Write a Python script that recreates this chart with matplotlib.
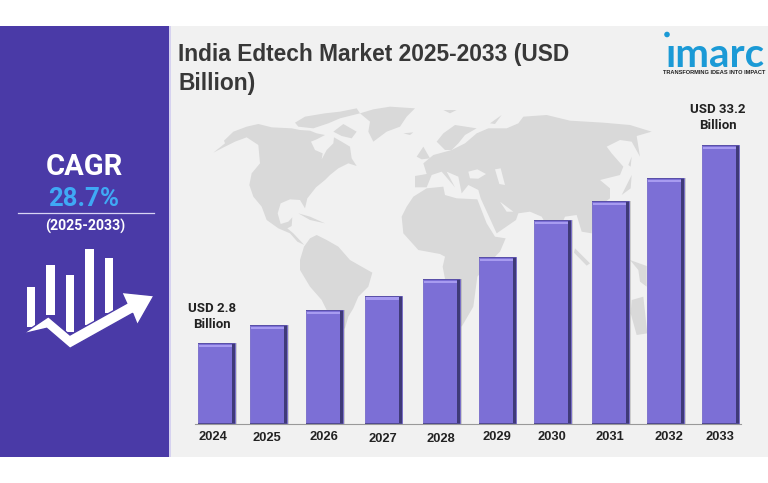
import numpy as np
import matplotlib
matplotlib.use('Agg')
import matplotlib.pyplot as plt
from matplotlib.patches import Polygon, Rectangle, Circle

# chart values, heights are read off the picture because the bars are not to scale
years = ['2024', '2025', '2026', '2027', '2028', '2029', '2030', '2031', '2032', '2033']
bar_heights = [81, 99, 114, 128.5, 145, 167, 204, 223, 246, 279]
end_labels = ['USD 2.8\nBillion', 'USD 33.2\nBillion']
title_text = 'India Edtech Market 2025-2033 (USD\nBillion)'

# the bars and year labels are a bit uneven in the original
bar_x = [216.5, 268.5, 324.5, 383, 441.5, 497, 552.5, 610.5, 665.5, 720]
year_x = [213, 267, 324, 383, 441, 497, 552, 610, 669, 720]
year_y = [437.5, 438, 437, 439, 439, 437.5, 437.5, 437.5, 437.5, 437.5]

PURPLE = '#4a3aa7'
MAP_GREY = '#d9d9d9'
PANEL = '#f1f1f1'

map_west = [
    [(10,158),(45,130),(42,122),(70,95),(110,80),(145,72),(185,82),(245,85),(270,90),(300,92),(320,100),(345,105),(320,118),(303,125),(315,150),(338,160),(335,178),(350,150),(370,130),(372,112),(395,125),(420,140),(425,175),(440,198),(415,190),(385,205),(360,225),(345,240),(318,262),(292,295),(285,325),(270,300),(240,298),(212,310),(203,340),(212,372),(235,365),(247,352),(245,378),(232,385),(250,400),(283,435),(262,425),(240,400),(205,385),(170,360),(155,320),(130,290),(118,255),(125,220),(150,190),(145,135),(110,112),(75,125),(45,140)],
    [(282,440),(300,415),(320,405),(350,420),(385,440),(420,480),(455,500),(487,518),(475,560),(445,590),(430,625),(415,650),(405,685),(380,690),(360,650),(335,600),(300,560),(270,510),(270,480)],
    [(450,40),(490,28),(540,20),(615,25),(590,50),(570,80),(530,95),(490,125),(475,95),(480,65)],
    [(370,95),(400,72),(440,95),(425,115),(395,108)],
    [(255,68),(285,50),(345,40),(390,35),(440,25),(450,40),(390,55),(355,70),(310,85),(265,80)],
    [(265,340),(300,350),(345,370),(300,360)],
    [(580,100),(610,97),(600,105)],
]
map_east = [
    [(35,350),(50,320),(70,290),(110,265),(160,260),(165,285),(200,295),(262,298),(290,370),(315,410),(347,415),(330,455),(320,465),(262,530),(250,620),(215,680),(190,650),(175,590),(158,500),(165,470),(150,462),(85,450),(40,400)],
    [(75,228),(110,222),(100,190),(130,165),(185,150),(225,130),(260,100),(295,85),(350,85),(385,70),(400,50),(470,45),(540,62),(640,68),(720,75),(785,95),(740,108),(750,170),(725,125),(690,120),(650,140),(665,160),(700,200),(690,225),(630,240),(660,265),(660,295),(640,310),(610,325),(605,400),(575,395),(560,345),(525,350),(495,420),(455,350),(420,335),(385,340),(378,360),(320,400),(272,295),(265,270),(235,255),(215,280),(205,230),(170,215),(195,262),(155,215),(125,225),(110,262),(75,262)],
    [(140,125),(160,100),(195,75),(260,85),(225,105),(205,130),(185,150),(165,150)],
    [(80,170),(100,140),(120,175),(95,178)],
    [(725,600),(760,590),(772,700),(740,705),(722,640)],
    [(720,480),(770,498),(770,560),(750,545),(745,510)],
    [(555,445),(600,490),(590,497),(552,458)],
    [(695,285),(725,225),(722,265)],
    [(715,195),(725,170),(722,200)],
    [(300,70),(335,45),(315,72)],
    [(160,30),(200,30),(180,40)],
]
map_holes = [
    [(235,215),(262,208),(288,222),(265,236),(240,235)],
    [(315,208),(332,205),(345,255),(328,252)],
    [(330,305),(370,335),(350,335)],
]
arrow_pts = [(68,612),(145,560),(210,615),(380,520),(365,487),(462,497),(412,585),(398,550),(210,655),(140,595)]
icon_bars = [(80,105,470,590),(138,165,405,555),(197,222,435,605),(255,282,357,585),(314,340,385,550)]

fig = plt.figure(figsize=(7.68, 4.83), dpi=100, facecolor='white')

# background layer works in image pixels
bg = fig.add_axes([0, 0, 1, 1])
bg.set_xlim(0, 768)
bg.set_ylim(483, 0)
bg.axis('off')
bg.add_patch(Rectangle((169, 26), 599, 431, color=PANEL, lw=0))
bg.add_patch(Rectangle((0, 26), 169, 431, color=PURPLE, lw=0))
bg.add_patch(Rectangle((169, 26), 2, 431, color='#d6d2f0', lw=0))

for pts in map_west:
    bg.add_patch(Polygon([(210 + a / 3, 100 + b / 3) for a, b in pts], color=MAP_GREY, lw=0))
for pts in map_east:
    bg.add_patch(Polygon([(390 + a / 3, 100 + b / 3) for a, b in pts], color=MAP_GREY, lw=0))
for pts in map_holes:
    bg.add_patch(Polygon([(390 + a / 3, 100 + b / 3) for a, b in pts], color=PANEL, lw=0))

# left panel
bg.text(84, 167, 'CAGR', color='white', fontsize=21, fontweight='bold', family='Roboto', ha='center', va='center')
bg.text(84, 199, '28.7%', color='#3fa9f5', fontsize=18.5, fontweight='bold', family='Roboto', ha='center', va='center')
bg.plot([18, 154], [212.7, 212.7], color='#d8d4f4', lw=0.9)
bg.text(85, 226, '(2025-2033)', color='white', fontsize=10.2, fontweight='bold', family='Roboto', ha='center', va='center')
for x0, x1, y0, y1 in icon_bars:
    bg.add_patch(Rectangle((x0 / 3, 130 + y0 / 3), (x1 - x0) / 3, (y1 - y0) / 3, color='white', lw=0))
bg.add_patch(Polygon([(a / 3, 130 + b / 3) for a, b in arrow_pts], facecolor='white', edgecolor=PURPLE, lw=1.0))

# title and logo
bg.text(178, 69, title_text, color='#383838', fontsize=16.4, fontweight='bold', family='Liberation Sans',
        ha='left', va='center', linespacing=1.3)
bg.add_patch(Circle((667, 34.5), 2.8, color='#1b9ad6', lw=0))
bg.text(715, 67, '\u0131marc', color='#1b9ad6', fontsize=29, fontweight='bold', family='Lato', ha='center', va='baseline')
bg.text(714, 72.5, 'TRANSFORMING IDEAS INTO IMPACT', color='#222222', fontsize=4.1, fontweight='bold',
        family='Liberation Sans', ha='center', va='center')

# bars, one data unit is one pixel here
ax = fig.add_axes([169 / 768, (483 - 424) / 483, 599 / 768, 398 / 483])
ax.patch.set_alpha(0)
ax.set_xlim(169, 768)
ax.set_ylim(0, 398)
xs = np.array(bar_x)
hs = np.array(bar_heights)
w = 37
ax.bar(xs + 1.5, hs, width=w, color='#888888', alpha=0.35, lw=0)
ax.bar(xs, hs, width=w, color='#7c6fd6', edgecolor='#6a5ec4', lw=0.5)
ax.bar(xs + w / 2 - 1.5, hs, width=3, color='#3f3a78', lw=0)
ax.bar(xs, 1.5, width=w, color='#4d4692', lw=0)
ax.bar(xs - 1, 2.5, bottom=hs - 4, width=w - 4, color='#a79bf0', lw=0)
ax.bar(xs, 1, bottom=hs - 1, width=w, color='#5a50a8', lw=0)

for s in ['top', 'left', 'right']:
    ax.spines[s].set_visible(False)
ax.spines['bottom'].set_color('#999999')
ax.spines['bottom'].set_bounds(195, 741)
ax.set_xticks([])
ax.set_yticks([])

for label, x, y in zip(years, year_x, year_y):
    ax.text(x, 424 - y, label, color='#222222', fontsize=9.3, fontweight='bold', family='Liberation Sans',
            ha='center', va='center', clip_on=False)

ax.text(212, hs[0] + 26, end_labels[0], color='#222222', fontsize=9.5, fontweight='bold', family='Roboto',
        ha='center', va='center', linespacing=1.3)
ax.text(718, hs[-1] + 27.5, end_labels[1], color='#222222', fontsize=9.5, fontweight='bold', family='Roboto',
        ha='center', va='center', linespacing=1.3)

fig.savefig('out.png', dpi=100)
